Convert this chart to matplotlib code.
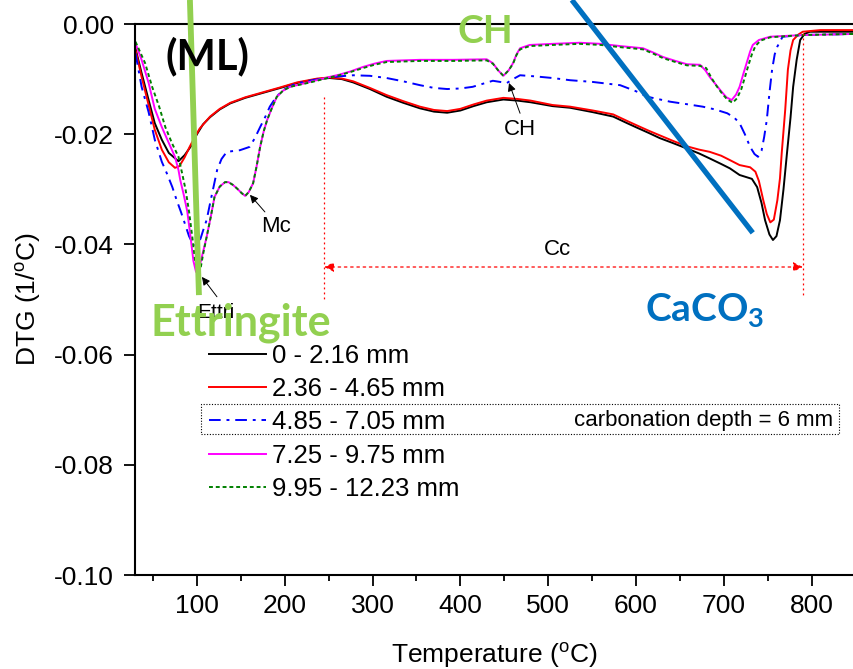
import matplotlib
matplotlib.use("Agg")
import matplotlib.pyplot as plt
from matplotlib.patches import Rectangle
from matplotlib.ticker import MultipleLocator, FuncFormatter

plt.rcParams['font.family'] = ['Liberation Sans', 'DejaVu Sans']
plt.rcParams['axes.unicode_minus'] = False
plt.rcParams['mathtext.fontset'] = 'custom'
plt.rcParams['mathtext.rm'] = 'Liberation Sans'
plt.rcParams['mathtext.bf'] = 'Lato:bold'

# DTG curves (temperature in C, DTG in 1/C)
t_black = [30, 37, 45, 52, 60, 68, 79, 86, 94, 100, 107, 115, 126, 138, 155,
           175, 195, 214, 237, 251, 265, 278, 297, 316, 335, 354, 370, 385,
           400, 415, 430, 449, 465, 480, 505, 525, 551, 574, 590, 601, 615,
           627, 642, 658, 672, 684, 697, 707, 718, 732, 738, 743, 747, 752,
           756, 760, 764, 768, 772, 776, 779, 783, 787, 792, 798, 848]
y_black = [-0.0044, -0.0089, -0.0138, -0.0180, -0.0210, -0.0234, -0.0249,
           -0.0238, -0.0220, -0.0200, -0.0182, -0.0169, -0.0155, -0.0144,
           -0.0134, -0.0125, -0.0116, -0.0107, -0.0100, -0.0098, -0.0100,
           -0.0106, -0.0118, -0.0132, -0.0143, -0.0153, -0.0159, -0.0161,
           -0.0157, -0.0149, -0.0142, -0.0137, -0.0139, -0.0142, -0.0149,
           -0.0152, -0.0160, -0.0168, -0.0180, -0.0188, -0.0198, -0.0207,
           -0.0216, -0.0226, -0.0235, -0.0244, -0.0254, -0.0262, -0.0274,
           -0.0281, -0.0296, -0.0325, -0.0356, -0.0382, -0.0392, -0.0385,
           -0.0356, -0.0300, -0.0234, -0.0170, -0.0114, -0.0065, -0.0029,
           -0.0018, -0.0014, -0.0014]

t_red = [30, 37, 45, 52, 60, 68, 75, 80, 86, 92, 97, 103, 110, 115, 126, 138,
         155, 175, 195, 214, 237, 251, 265, 278, 297, 316, 335, 354, 370,
         385, 400, 415, 430, 449, 465, 480, 505, 525, 551, 574, 590, 601,
         615, 627, 642, 658, 672, 684, 697, 707, 718, 730, 736, 740, 745,
         749, 753, 757, 761, 764, 766, 770, 773, 776, 779, 785, 790, 810, 848]
y_red = [-0.0047, -0.0096, -0.0147, -0.0192, -0.0228, -0.0251, -0.0261,
         -0.0258, -0.0242, -0.0222, -0.0207, -0.0190, -0.0177, -0.0168,
         -0.0154, -0.0143, -0.0133, -0.0124, -0.0115, -0.0106, -0.0099,
         -0.0097, -0.0099, -0.0104, -0.0116, -0.0129, -0.0140, -0.0150,
         -0.0156, -0.0158, -0.0154, -0.0146, -0.0139, -0.0134, -0.0136,
         -0.0139, -0.0147, -0.0150, -0.0157, -0.0164, -0.0176, -0.0184,
         -0.0194, -0.0202, -0.0212, -0.0222, -0.0228, -0.0232, -0.0239,
         -0.0247, -0.0256, -0.0260, -0.0268, -0.0285, -0.0320, -0.0345,
         -0.0360, -0.0355, -0.0320, -0.0280, -0.0234, -0.0155, -0.0083,
         -0.0048, -0.0029, -0.0019, -0.0014, -0.0011, -0.0011]

t_blue = [30, 37, 45, 52, 60, 66, 72, 77, 82, 86, 91, 95, 99, 104, 108,
          111, 117, 123, 128, 134, 149, 160, 166, 172, 178, 183, 190, 198,
          210, 221, 235, 248, 262, 278, 297, 316, 335, 354, 370, 385, 400,
          414, 437, 445, 453, 460, 468, 485, 505, 525, 550, 582, 600, 613,
          639, 660, 676, 690, 704, 712, 718, 724, 730, 735, 739, 743, 746,
          749, 752, 755, 758, 761, 767, 790, 848]
y_blue = [-0.0053, -0.0114, -0.0160, -0.0210, -0.0250, -0.0272, -0.0296,
          -0.0320, -0.0342, -0.0361, -0.0385, -0.0398, -0.0402,
          -0.0390, -0.0370, -0.0356, -0.0310, -0.0265, -0.0245, -0.0232,
          -0.0229, -0.0223, -0.0207, -0.0187, -0.0168, -0.0150, -0.0133,
          -0.0120, -0.0110, -0.0105, -0.0101, -0.0098, -0.0095, -0.0093,
          -0.0094, -0.0098, -0.0104, -0.0111, -0.0116, -0.0118, -0.0117,
          -0.0114, -0.0103, -0.0105, -0.0107, -0.0100, -0.0093, -0.0095,
          -0.0098, -0.0102, -0.0105, -0.0111, -0.0122, -0.0132, -0.0141,
          -0.0146, -0.0150, -0.0155, -0.0162, -0.0170, -0.0180, -0.0200,
          -0.0223, -0.0236, -0.0241, -0.0230, -0.0205, -0.0174, -0.0125,
          -0.0083, -0.0055, -0.0041, -0.0023, -0.0020, -0.0018]

t_mag = [30, 37, 45, 52, 60, 68, 75, 79, 81, 85, 89, 93, 96, 99, 102, 106,
         111, 116, 120, 126, 132, 136, 141, 146, 151, 155, 159, 164, 168,
         172, 176, 180, 186, 191, 198, 206, 229, 251, 262, 275, 289, 302,
         316, 354, 392, 430, 437, 443, 449, 455, 460, 464, 468, 479, 505,
         536, 560, 582, 608, 620, 631, 645, 658, 673, 679, 684, 690, 696,
         703, 709, 714, 718, 722, 726, 730, 733, 740, 753, 790, 848]
y_mag = [-0.0035, -0.0065, -0.0107, -0.0154, -0.0187, -0.0216, -0.0241,
         -0.0265, -0.0283, -0.0310, -0.0340, -0.0390, -0.0430, -0.0450,
         -0.0447, -0.0420, -0.0387, -0.0348, -0.0314, -0.0295, -0.0287,
         -0.0287, -0.0292, -0.0299, -0.0307, -0.0312, -0.0305, -0.0289,
         -0.0258, -0.0223, -0.0195, -0.0174, -0.0150, -0.0132, -0.0121,
         -0.0114, -0.0105, -0.0096, -0.0092, -0.0086, -0.0078, -0.0072,
         -0.0067, -0.0065, -0.0065, -0.0064, -0.0071, -0.0084, -0.0094,
         -0.0084, -0.0071, -0.0055, -0.0044, -0.0038, -0.0036, -0.0034,
         -0.0036, -0.0040, -0.0044, -0.0052, -0.0060, -0.0067, -0.0073,
         -0.0074, -0.0084, -0.0096, -0.0108, -0.0120, -0.0133, -0.0138,
         -0.0128, -0.0114, -0.0092, -0.0071, -0.0050, -0.0038, -0.0029,
         -0.0023, -0.0020, -0.0018]

t_green = [30, 41, 49, 57, 64, 71.5, 79, 83, 87, 91, 95, 98, 101, 104, 107,
           111, 116, 120, 126, 132, 136, 141, 146, 151, 155, 159, 164, 168,
           172, 176, 180, 186, 191, 198, 206, 229, 251, 262, 275, 289, 302,
           316, 354, 392, 430, 437, 443, 449, 455, 460, 464, 468, 479, 505,
           536, 560, 582, 608, 620, 631, 645, 658, 673, 680, 686, 692, 698,
           704, 710, 715, 720, 724, 728, 732, 736, 742, 753, 790, 848]
y_green = [-0.0032, -0.0071, -0.0114, -0.0150, -0.0187, -0.0216, -0.0241,
           -0.0270, -0.0300, -0.0340, -0.0390, -0.0430, -0.0449, -0.0445,
           -0.0418, -0.0387, -0.0348, -0.0314, -0.0295, -0.0287,
           -0.0287, -0.0292, -0.0299, -0.0307, -0.0312, -0.0305, -0.0289,
           -0.0258, -0.0223, -0.0195, -0.0174, -0.0150, -0.0132, -0.0121,
           -0.0114, -0.0106, -0.0097, -0.0093, -0.0087, -0.0080, -0.0074,
           -0.0069, -0.0067, -0.0067, -0.0066, -0.0072, -0.0084, -0.0094,
           -0.0084, -0.0072, -0.0056, -0.0046, -0.0040, -0.0038, -0.0036,
           -0.0038, -0.0042, -0.0046, -0.0054, -0.0062, -0.0069, -0.0075,
           -0.0076, -0.0080, -0.0098, -0.0113, -0.0126, -0.0137, -0.0143,
           -0.0135, -0.0118, -0.0097, -0.0075, -0.0055, -0.0040, -0.0030,
           -0.0024, -0.0020, -0.0018]

labels = ['0 - 2.16 mm', '2.36 - 4.65 mm', '4.85 - 7.05 mm',
          '7.25 - 9.75 mm', '9.95 - 12.23 mm']


def ytick_fmt(v, pos):
    if abs(v) < 1e-9:
        return '0.00'
    return '%.2f' % v


fig = plt.figure(figsize=(8.54, 6.69), dpi=100)
ax = fig.add_axes([0.158, 0.1405, 0.842, 0.8236])

lw = 1.4
ax.plot(t_black, y_black, color='black', lw=lw, label=labels[0])
ax.plot(t_red, y_red, color='red', lw=lw, label=labels[1])
ax.plot(t_blue, y_blue, color='blue', lw=lw, ls=(0, (6, 3, 1.5, 3)), label=labels[2])
ax.plot(t_mag, y_mag, color='magenta', lw=lw, label=labels[3])
ax.plot(t_green, y_green, color='green', lw=lw, ls=(0, (2, 1.5)), label=labels[4])

ax.set_xlim(29.4, 848.3)
ax.set_ylim(-0.10, 0.0)
ax.xaxis.set_major_locator(MultipleLocator(100))
ax.xaxis.set_minor_locator(MultipleLocator(50))
ax.yaxis.set_major_locator(MultipleLocator(0.02))
ax.yaxis.set_major_formatter(FuncFormatter(ytick_fmt))
ax.tick_params(axis='both', which='major', direction='out', length=8, width=1.3, labelsize=19)
ax.tick_params(axis='x', which='minor', direction='out', length=4.5, width=1.3)
ax.tick_params(axis='x', pad=6)
ax.tick_params(axis='y', pad=7)
ax.spines['right'].set_visible(False)
for s in ['left', 'bottom', 'top']:
    ax.spines[s].set_linewidth(1.5)

ax.set_xlabel(r'Temperature ($^{\mathrm{o}}$C)', fontsize=19, labelpad=16)
ax.set_ylabel(r'DTG (1/$^{\mathrm{o}}$C)', fontsize=19, labelpad=8)

# legend
leg = ax.legend(loc='upper left', bbox_to_anchor=(0.2447, 0.486), bbox_transform=fig.transFigure,
                frameon=False, fontsize=18.5, handlelength=2.2, handletextpad=0.25,
                labelspacing=0.36, borderpad=0, borderaxespad=0)

# dotted box around the carbonation-front layer
ax.add_patch(Rectangle((104.5, -0.0744), 726.5, 0.0054, fill=False, ec='black',
                       lw=0.8, ls=(0, (1, 1.5)), zorder=3))
ax.text(824, -0.0719, 'carbonation depth = 6 mm', fontsize=16, ha='right', va='center')

# Cc range
ax.plot([245, 245], [-0.0133, -0.0501], color='red', lw=0.9, ls=(0, (1.5, 2.5)))
ax.plot([790, 790], [-0.0016, -0.0495], color='red', lw=0.9, ls=(0, (1.5, 2.5)))
ax.annotate('', xy=(790, -0.0441), xytext=(245, -0.0441),
            arrowprops=dict(arrowstyle='<|-|>', color='red', lw=0.9, ls=(0, (2, 3)),
                            mutation_scale=14, shrinkA=0, shrinkB=0))
ax.text(511, -0.0410, 'Cc', fontsize=16, ha='center', va='center')

# small peak labels
small = dict(arrowstyle='-|>', color='black', lw=0.7, mutation_scale=12, shrinkA=0, shrinkB=0)
ax.annotate('', xy=(455.4, -0.0107), xytext=(468, -0.0162), arrowprops=small)
ax.text(468, -0.0192, 'CH', fontsize=16, ha='center', va='center')
ax.annotate('', xy=(160.4, -0.0310), xytext=(177.4, -0.0341), arrowprops=small)
ax.text(190, -0.0368, 'Mc', fontsize=16, ha='center', va='center')
ax.annotate('', xy=(105.7, -0.0459), xytext=(122.8, -0.0495), arrowprops=small)
ax.text(121.6, -0.0523, 'Ettri', fontsize=15, ha='center', va='center')

# overlaid highlights
ax.plot([92, 102.3], [0.00436, -0.0492], color='#92D050', lw=4.2, clip_on=False,
        solid_capstyle='butt', zorder=5)
ax.plot([527, 733], [0.00436, -0.0379], color='#0070C0', lw=3.8, clip_on=False,
        solid_capstyle='butt', zorder=5)

big = dict(fontfamily='Lato', fontweight='bold', zorder=6)
ax.text(112.5, -0.0058, '(ML)', fontsize=30, color='black', ha='center', va='center', **big)
ax.text(47, -0.0565, 'Ettringite', fontsize=31, color='#92D050', ha='left', va='baseline', **big)
ax.text(397, -0.0035, 'CH', fontsize=28, color='#92D050', ha='left', va='baseline', **big)
ax.text(610, -0.0541, r'CaCO$_\mathbf{3}$', fontsize=28, color='#0070C0', ha='left',
        va='baseline', **big)

fig.savefig('out.png', dpi=100)
